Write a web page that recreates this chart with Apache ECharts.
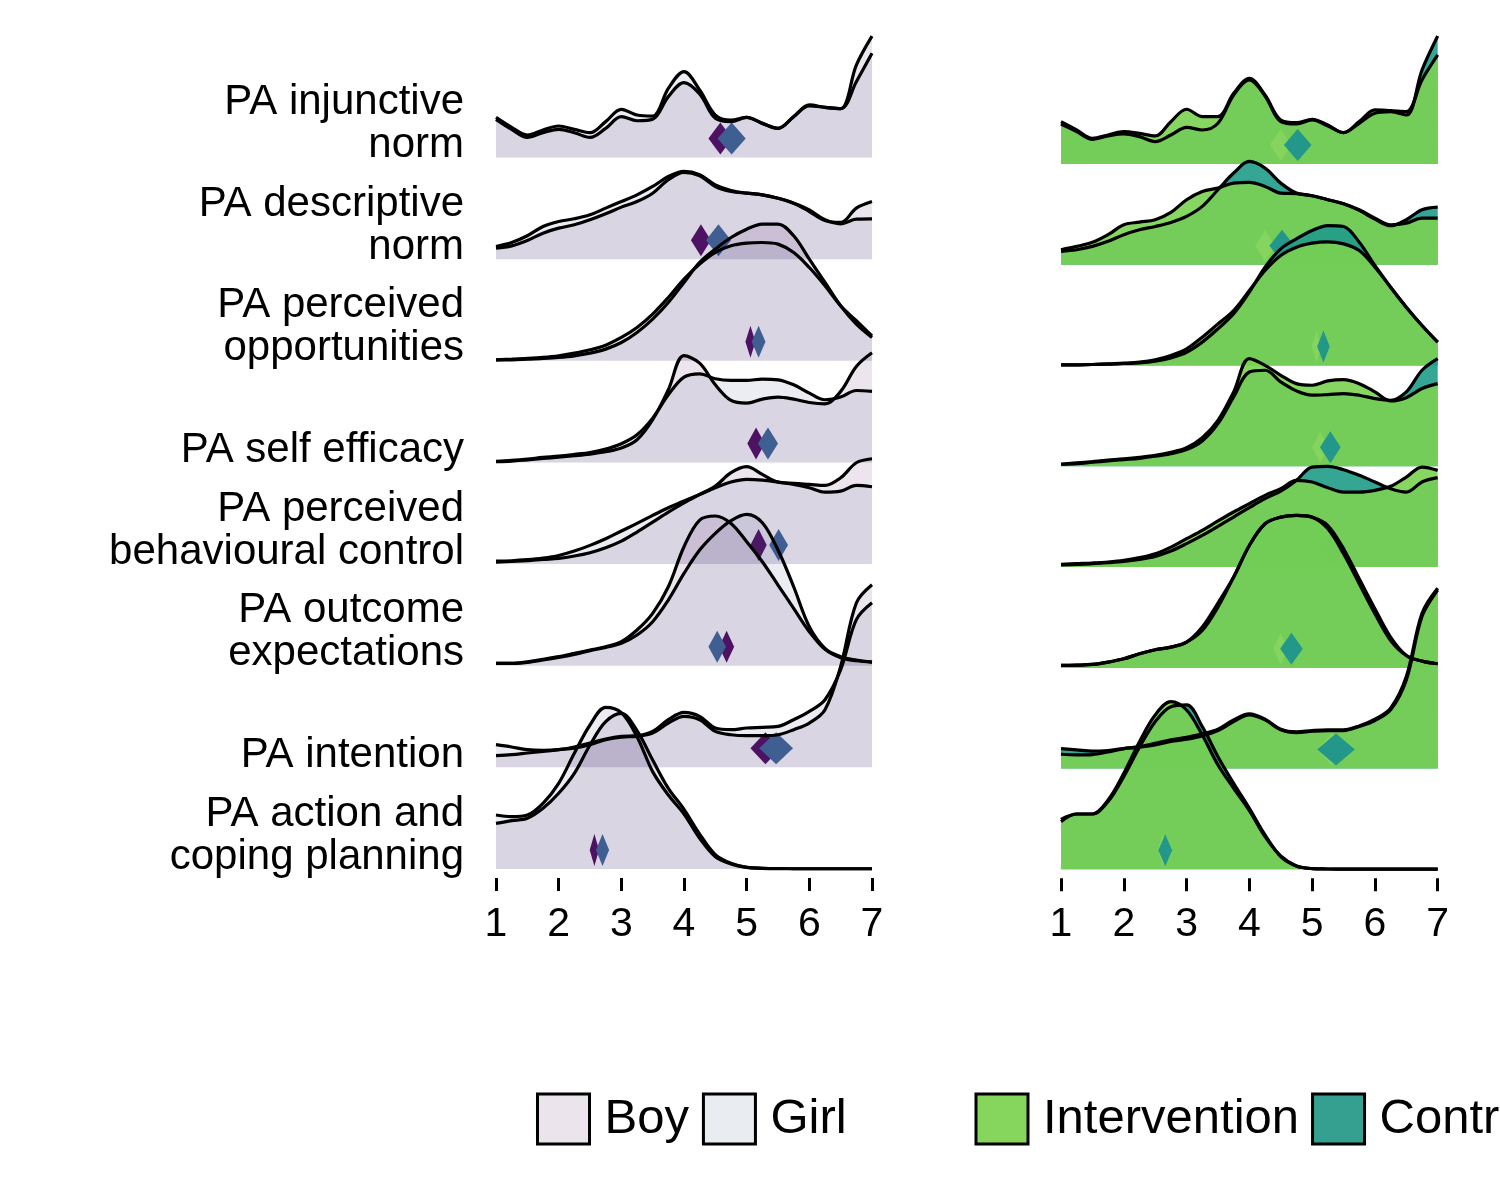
<!DOCTYPE html>
<html>
<head>
<meta charset="utf-8">
<script src="https://cdn.jsdelivr.net/npm/echarts@6/dist/echarts.min.js"></script>
<style>html,body{margin:0;padding:0;background:#fff}#chart{width:1500px;height:1200px}</style>
</head>
<body>
<div id="chart"></div>
<script>
// ---------- data ----------
const rowLabels = ['PA injunctive\nnorm', 'PA descriptive\nnorm', 'PA perceived\nopportunities', 'PA self efficacy',
  'PA perceived\nbehavioural control', 'PA outcome\nexpectations', 'PA intention', 'PA action and\ncoping planning'];
const xTicks = [1, 2, 3, 4, 5, 6, 7];
const xs = [1,1.25,1.5,1.75,2,2.25,2.5,2.75,3,3.25,3.5,3.75,4,4.25,4.5,4.75,5,5.25,5.5,5.75,6,6.25,6.5,6.75,7];

const boyDensity = [
  [0.376,0.277,0.198,0.244,0.277,0.244,0.198,0.287,0.402,0.362,0.376,0.599,0.737,0.625,0.385,0.353,0.395,0.336,0.287,0.402,0.517,0.494,0.480,0.910,1.195],
  [0.108,0.131,0.184,0.256,0.305,0.338,0.387,0.446,0.512,0.567,0.649,0.781,0.853,0.820,0.715,0.666,0.649,0.633,0.600,0.551,0.469,0.380,0.361,0.502,0.567],
  [0.010,0.010,0.016,0.023,0.033,0.049,0.075,0.115,0.180,0.279,0.410,0.574,0.771,0.968,1.099,1.213,1.295,1.345,1.345,1.230,1.000,0.771,0.541,0.361,0.230],
  [0.007,0.013,0.026,0.039,0.052,0.066,0.082,0.105,0.141,0.223,0.420,0.715,1.050,0.977,0.764,0.610,0.584,0.623,0.643,0.623,0.590,0.577,0.699,0.945,1.079],
  [0.020,0.026,0.033,0.046,0.056,0.079,0.112,0.161,0.226,0.315,0.413,0.512,0.603,0.685,0.767,0.899,0.958,0.882,0.807,0.794,0.784,0.774,0.849,0.997,1.036],
  [0.023,0.023,0.039,0.062,0.089,0.121,0.154,0.187,0.236,0.351,0.515,0.777,1.171,1.433,1.473,1.400,1.220,1.023,0.794,0.564,0.335,0.161,0.079,0.049,0.036],
  [0.115,0.125,0.141,0.157,0.174,0.190,0.223,0.272,0.298,0.305,0.338,0.436,0.502,0.469,0.354,0.321,0.312,0.312,0.321,0.371,0.436,0.567,0.994,1.617,1.797],
  [0.449,0.476,0.499,0.597,0.745,0.941,1.220,1.450,1.532,1.361,1.072,0.794,0.587,0.344,0.141,0.056,0.016,0.007,0.003,0.002,0.001,0.001,0.001,0.001,0.001]
];
const girlDensity = [
  [0.395,0.297,0.221,0.271,0.310,0.277,0.244,0.353,0.474,0.418,0.408,0.681,0.845,0.664,0.418,0.369,0.395,0.336,0.287,0.402,0.507,0.494,0.480,0.746,1.025],
  [0.125,0.164,0.230,0.321,0.371,0.397,0.436,0.502,0.567,0.633,0.715,0.813,0.863,0.830,0.731,0.676,0.649,0.633,0.600,0.551,0.485,0.387,0.348,0.394,0.397],
  [0.010,0.016,0.023,0.033,0.049,0.075,0.108,0.154,0.230,0.328,0.459,0.623,0.804,0.951,1.066,1.132,1.158,1.164,1.148,1.066,0.918,0.738,0.541,0.394,0.246],
  [0.010,0.020,0.033,0.049,0.062,0.079,0.098,0.131,0.184,0.272,0.436,0.666,0.840,0.872,0.823,0.807,0.807,0.820,0.813,0.764,0.682,0.617,0.643,0.708,0.699],
  [0.030,0.033,0.043,0.059,0.085,0.128,0.184,0.249,0.325,0.400,0.479,0.554,0.620,0.685,0.751,0.807,0.833,0.826,0.807,0.784,0.751,0.708,0.718,0.774,0.761],
  [0.023,0.023,0.033,0.056,0.082,0.112,0.148,0.180,0.220,0.302,0.433,0.646,0.908,1.138,1.302,1.427,1.489,1.407,1.138,0.777,0.384,0.171,0.089,0.056,0.036],
  [0.223,0.200,0.174,0.167,0.174,0.200,0.239,0.279,0.305,0.312,0.354,0.469,0.541,0.502,0.387,0.371,0.387,0.394,0.403,0.469,0.551,0.666,0.961,1.453,1.620],
  [0.531,0.515,0.531,0.646,0.843,1.138,1.417,1.591,1.538,1.302,0.958,0.728,0.541,0.302,0.121,0.049,0.016,0.007,0.003,0.002,0.001,0.001,0.001,0.001,0.001]
];
const interventionDensity = [
  [0.420,0.337,0.255,0.288,0.321,0.304,0.278,0.420,0.543,0.470,0.470,0.701,0.850,0.685,0.437,0.410,0.443,0.387,0.311,0.420,0.536,0.529,0.520,0.834,1.082],
  [0.149,0.182,0.222,0.298,0.397,0.423,0.447,0.519,0.645,0.728,0.761,0.810,0.817,0.777,0.711,0.705,0.685,0.645,0.605,0.546,0.463,0.397,0.413,0.463,0.463],
  [0.007,0.007,0.010,0.017,0.023,0.033,0.056,0.099,0.165,0.281,0.413,0.546,0.744,0.943,1.092,1.174,1.214,1.227,1.207,1.141,0.976,0.777,0.579,0.397,0.232],
  [0.020,0.033,0.046,0.060,0.073,0.089,0.109,0.139,0.185,0.284,0.456,0.738,1.068,1.002,0.903,0.820,0.804,0.847,0.860,0.820,0.738,0.648,0.681,0.771,0.820],
  [0.026,0.033,0.040,0.050,0.066,0.093,0.132,0.198,0.281,0.364,0.457,0.546,0.629,0.711,0.777,0.860,0.844,0.787,0.744,0.744,0.761,0.801,0.893,0.992,0.959],
  [0.023,0.026,0.033,0.056,0.089,0.139,0.179,0.205,0.255,0.370,0.602,0.900,1.214,1.429,1.495,1.512,1.495,1.379,1.131,0.834,0.536,0.271,0.122,0.066,0.040],
  [0.142,0.136,0.139,0.165,0.198,0.218,0.251,0.284,0.311,0.344,0.390,0.483,0.543,0.490,0.390,0.364,0.377,0.384,0.384,0.423,0.490,0.599,0.913,1.542,1.790],
  [0.473,0.549,0.549,0.688,0.953,1.267,1.532,1.664,1.581,1.333,1.035,0.804,0.582,0.324,0.132,0.033,0.007,0.003,0.002,0.001,0.001,0.001,0.001,0.001,0.001]
];
const controlDensity = [
  [0.397,0.321,0.245,0.278,0.298,0.271,0.222,0.288,0.364,0.337,0.404,0.685,0.834,0.675,0.420,0.397,0.437,0.377,0.311,0.404,0.503,0.519,0.486,0.933,1.270],
  [0.132,0.149,0.182,0.232,0.298,0.347,0.380,0.420,0.480,0.579,0.744,0.910,1.025,0.959,0.810,0.711,0.685,0.645,0.605,0.539,0.453,0.387,0.447,0.546,0.572],
  [0.007,0.007,0.010,0.013,0.020,0.026,0.043,0.076,0.132,0.232,0.364,0.513,0.728,0.976,1.158,1.257,1.340,1.389,1.379,1.224,0.993,0.777,0.579,0.397,0.232],
  [0.020,0.026,0.040,0.053,0.066,0.079,0.099,0.126,0.165,0.251,0.423,0.688,0.936,0.953,0.837,0.748,0.705,0.711,0.721,0.705,0.672,0.655,0.738,0.953,1.068],
  [0.020,0.026,0.033,0.043,0.056,0.076,0.106,0.159,0.232,0.314,0.404,0.496,0.589,0.678,0.754,0.860,0.992,0.999,0.966,0.910,0.844,0.777,0.744,0.844,0.887],
  [0.023,0.026,0.033,0.056,0.089,0.139,0.179,0.205,0.255,0.404,0.642,0.900,1.214,1.429,1.495,1.512,1.495,1.412,1.181,0.883,0.586,0.304,0.122,0.066,0.040],
  [0.198,0.185,0.172,0.179,0.198,0.212,0.235,0.268,0.291,0.324,0.377,0.466,0.533,0.483,0.384,0.357,0.370,0.377,0.377,0.417,0.476,0.582,0.880,1.508,1.772],
  [0.496,0.549,0.549,0.672,0.920,1.211,1.465,1.614,1.631,1.416,1.118,0.853,0.605,0.341,0.126,0.033,0.007,0.003,0.002,0.001,0.001,0.001,0.001,0.001,0.001]
];

// group means and diamond half-widths (x units)
const boyMean = [4.58, 4.27, 5.06, 5.15, 5.19, 4.68, 5.30, 2.57];
const boyHalf = [0.19, 0.16, 0.08, 0.14, 0.13, 0.12, 0.24, 0.075];
const girlMean = [4.76, 4.55, 5.19, 5.34, 5.51, 4.53, 5.47, 2.70];
const girlHalf = [0.225, 0.20, 0.11, 0.16, 0.15, 0.14, 0.27, 0.105];
const interventionMean = [4.50, 4.25, 5.07, 5.13, 5.30, 4.50, 5.32, 2.62];
const interventionHalf = [0.175, 0.16, 0.08, 0.13, 0.15, 0.12, 0.25, 0.08];
const controlMean = [4.77, 4.52, 5.18, 5.29, 5.33, 4.67, 5.38, 2.66];
const controlHalf = [0.22, 0.20, 0.10, 0.165, 0.207, 0.18, 0.30, 0.11];

// ---------- styles ----------
const FONT = 'Liberation Sans, Arial, sans-serif';
const COL = {
  boyFill: 'rgba(68,1,84,0.1)', girlFill: 'rgba(59,82,139,0.1)',
  intFill: 'rgba(122,209,81,0.9)', ctlFill: 'rgba(31,155,136,0.9)',
  boyPt: '#4d1261', girlPt: '#3f5e92', intPt: '#84d45e', ctlPt: '#22978a'
};

const chart = echarts.init(document.getElementById('chart'), null, {renderer: 'canvas'});

function richLabel(s) {
  const parts = s.split('\n');
  return parts.map((p, i) => (i === parts.length - 1 ? '{b|' + p + '}' : '{a|' + p + '}')).join('\n');
}

function diamondRender(params, api) {
  const x = api.value(0), b = api.value(1), hw = api.value(2);
  const c = api.coord([x, b]);
  const l = api.coord([x - hw, b]);
  const r = api.coord([x + hw, b]);
  const cy = c[1] - 19;
  return {
    type: 'polygon',
    shape: {points: [[l[0], cy], [c[0], cy - 16], [r[0], cy], [c[0], cy + 16]]},
    style: {fill: api.visual('color')}
  };
}

const series = [];
function addRidge(panel, row, name, dens, fill) {
  const base = 7 - row;
  series.push({
    type: 'line', name: name, xAxisIndex: panel, yAxisIndex: panel, z: 3,
    data: xs.map((x, i) => [x, base + dens[row][i]]), symbol: 'none', smooth: 0.35, silent: true,
    lineStyle: {color: '#000', width: 3.2}, itemStyle: {color: fill},
    areaStyle: {color: fill, opacity: 1, origin: base}
  });
}
function addDiamonds(panel, row, items) {
  series.push({
    type: 'custom', name: '_pts', xAxisIndex: panel, yAxisIndex: panel, silent: true, z: 3,
    encode: {x: 0, y: 1},
    renderItem: diamondRender,
    data: items.map(it => ({value: [it.m[row], 7 - row, it.h[row]], itemStyle: {color: it.c}}))
  });
}

for (let r = 0; r < 8; r++) {
  addRidge(0, r, 'Boy', boyDensity, COL.boyFill);
  addRidge(0, r, 'Girl', girlDensity, COL.girlFill);
  addDiamonds(0, r, [{m: boyMean, h: boyHalf, c: COL.boyPt}, {m: girlMean, h: girlHalf, c: COL.girlPt}]);
}
for (let r = 0; r < 8; r++) {
  addRidge(1, r, 'Control', controlDensity, COL.ctlFill);
  addRidge(1, r, 'Intervention', interventionDensity, COL.intFill);
  addDiamonds(1, r, [{m: interventionMean, h: interventionHalf, c: COL.intPt}, {m: controlMean, h: controlHalf, c: COL.ctlPt}]);
}

function xAxisCfg(gi) {
  return {
    type: 'value', gridIndex: gi, min: 1, max: 7, interval: 1, offset: 9, position: 'bottom',
    axisLine: {show: false, onZero: false},
    axisTick: {show: true, length: 13, lineStyle: {color: '#000', width: 3}},
    axisLabel: {fontSize: 41, fontFamily: FONT, color: '#000', margin: 26,
      formatter: v => (xTicks.indexOf(v) >= 0 ? String(v) : '')},
    splitLine: {show: false}
  };
}
function yAxisCfg(gi, showLabels) {
  return {
    type: 'value', gridIndex: gi, min: 0, max: 8.3, interval: 1,
    axisLine: {show: false, onZero: false}, axisTick: {show: false}, splitLine: {show: false},
    axisLabel: showLabels ? {
      show: true, align: 'right', verticalAlign: 'bottom', margin: 32,
      formatter: v => {
        const k = Math.round(v);
        if (Math.abs(v - k) > 1e-6 || k < 0 || k > 7) return '';
        return richLabel(rowLabels[7 - k]);
      },
      rich: {
        a: {fontSize: 42, fontFamily: FONT, color: '#000', lineHeight: 62},
        b: {fontSize: 42, fontFamily: FONT, color: '#000', lineHeight: 24}
      }
    } : {show: false}
  };
}

const legendText = {fontSize: 49, fontFamily: FONT, color: '#000', padding: [0, 0, 0, 10]};
const option = {
  animation: false,
  backgroundColor: '#fff',
  grid: [
    {left: 496, width: 376, top: 869 - 8.3 * 101.64, height: 8.3 * 101.64, containLabel: false},
    {left: 1061, width: 376.7, top: 869.3 - 8.3 * 100.76, height: 8.3 * 100.76, containLabel: false}
  ],
  xAxis: [xAxisCfg(0), xAxisCfg(1)],
  yAxis: [yAxisCfg(0, true), yAxisCfg(1, false)],
  legend: [
    {left: 536, top: 1092.5, width: 900, padding: 0, itemWidth: 52, itemHeight: 50, itemGap: 13, icon: 'rect',
      selectedMode: false, textStyle: legendText,
      data: [
        {name: 'Boy', itemStyle: {color: '#ebe4ec', borderColor: '#000', borderWidth: 3}},
        {name: 'Girl', itemStyle: {color: '#e9edf1', borderColor: '#000', borderWidth: 3}}
      ]},
    {left: 974.5, top: 1092.5, width: 1000, padding: 0, itemWidth: 52, itemHeight: 50, itemGap: 12, icon: 'rect',
      selectedMode: false, textStyle: legendText,
      data: [
        {name: 'Intervention', itemStyle: {color: '#86d65d', borderColor: '#000', borderWidth: 3}},
        {name: 'Control', itemStyle: {color: '#35a08f', borderColor: '#000', borderWidth: 3}}
      ]}
  ],
  series: series
};
chart.setOption(option);
</script>
</body>
</html>
